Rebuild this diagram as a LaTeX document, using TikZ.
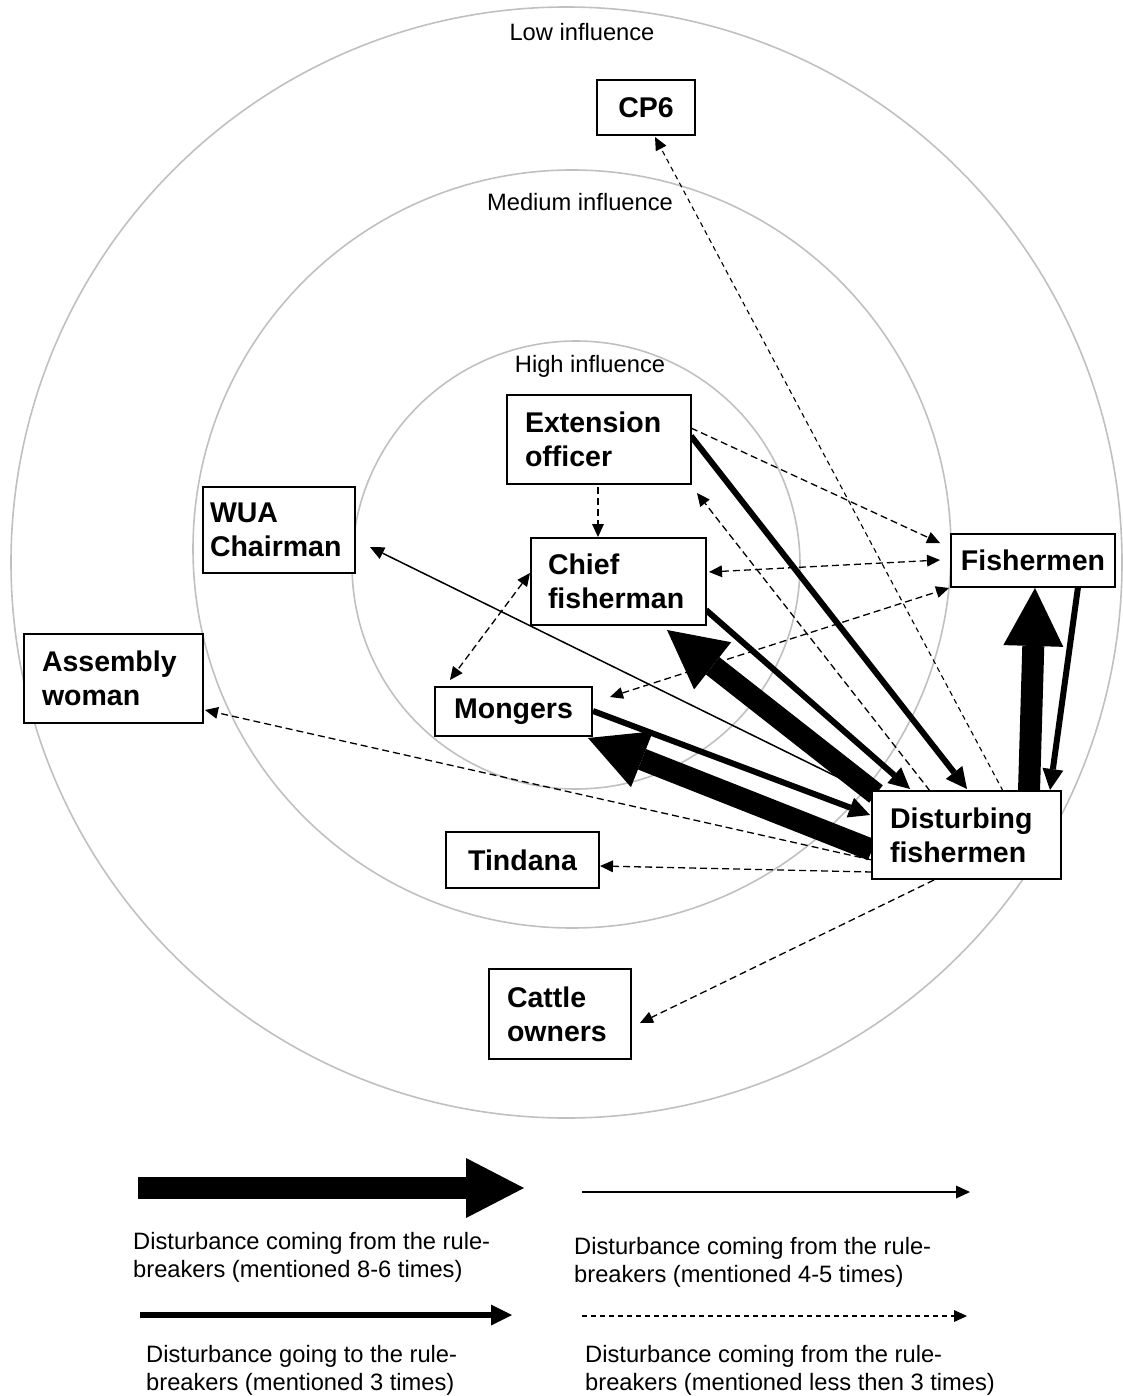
\documentclass[tikz,border=0pt]{standalone}
\usepackage{fontspec}
\setmainfont{Liberation Sans}
\usetikzlibrary{arrows.meta,calc}
\definecolor{ringgray}{RGB}{192,192,192}
\pgfdeclarelayer{rings}
\pgfdeclarelayer{links}
\pgfsetlayers{rings,links,main}

\begin{document}
\begin{tikzpicture}[x=1pt,y=-1pt,
  ring/.style={draw=ringgray, line width=1.6pt},
  zone/.style={font=\fontsize{23.7}{28}\selectfont, inner sep=0pt},
  note/.style={font=\fontsize{23.7}{28}\selectfont, inner sep=0pt, align=left},
  actor/.style={draw, fill=white, line width=1.8pt, outer sep=0pt, inner ysep=0pt,
    font=\bfseries\fontsize{28.5}{34}\selectfont},
  smalltip/.style={-{Triangle[length=13pt,width=12pt,line width=0pt]}},
  few/.style={line width=1.3pt, dash pattern=on 7pt off 4pt, smalltip},
  fewboth/.style={line width=1.3pt, dash pattern=on 7pt off 4pt,
    {Triangle[length=13pt,width=12pt,line width=0pt]}-{Triangle[length=13pt,width=12pt,line width=0pt]}},
  four/.style={line width=1.5pt, -{Triangle[length=14pt,width=13pt,line width=0pt]}},
  three/.style={line width=6pt, -{Triangle[length=21pt,width=21pt,line width=0pt]}},
  many/.style={line width=22pt, -{Triangle[length=58pt,width=60pt,line width=0pt]}}
]
\useasboundingbox (0,0) rectangle (1122,1396);

% influence rings
\begin{pgfonlayer}{rings}
  \draw[ring] (566.5,562.5) circle[radius=555.5pt];
  \draw[ring] (572,549) circle[radius=379pt];
  \draw[ring] (576,565) circle[radius=224pt];
\end{pgfonlayer}

\node[zone] (low)  at (582,32)  {Low influence};
\node[zone] (med)  at (580,202) {Medium influence};
\node[zone] (high) at (590,366) {High influence};

% actors
\node[actor, minimum width=98pt, minimum height=55pt, align=center] (cp6) at (646,107.5) {CP6};
\node[actor, text width=148pt, inner xsep=18pt, minimum height=89pt, align=left] (ext) at (599,439.5) {Extension\\officer};
\node[actor, text width=138pt, inner xsep=7pt, minimum height=86pt, align=left] (wua) at (279,530) {WUA\\Chairman};
\node[actor, text width=141pt, inner xsep=17pt, minimum height=87pt, align=left] (chief) at (618.5,581.5) {Chief\\fisherman};
\node[actor, text width=143pt, inner xsep=18pt, minimum height=89pt, align=left] (asm) at (113.5,678.5) {Assembly\\woman};
\node[actor, minimum width=157pt, minimum height=49pt, align=center] (mong) at (513.5,711.5) {Mongers};
\node[actor, minimum width=164pt, minimum height=53pt, align=center] (fish) at (1033,560.5) {Fishermen};
\node[actor, text width=153pt, inner xsep=18pt, minimum height=88pt, align=left] (dist) at (966.5,835) {Disturbing\\fishermen};
\node[actor, minimum width=153pt, minimum height=56pt, align=center] (tin) at (522.5,860) {Tindana};
\node[actor, text width=106pt, inner xsep=18pt, minimum height=90pt, align=left] (cat) at (560,1014) {Cattle\\owners};

% relations between the actors
\begin{pgfonlayer}{links}
  % mentioned less than 3 times
  \draw[few, dash pattern=on 5pt off 4pt, line width=1.1pt] ([shift={(36.5,0)}]dist.north) -- ([shift={(9,2)}]cp6.south);
  \draw[few] ([shift={(-36.5,0)}]dist.north) -- ([shift={(6,9)}]ext.south east);
  \draw[few] ([shift={(0,-11.5)}]ext.east) -- ([shift={(-11,-17.5)}]fish.west);
  \draw[fewboth] ([shift={(3,-9.5)}]chief.east) -- ([shift={(-11,-0.5)}]fish.west);
  \draw[fewboth] ([shift={(18,-14.5)}]mong.east) -- ([shift={(-2,1)}]fish.south west);
  \draw[few] ([shift={(-1,3)}]ext.south) -- ([shift={(-20.5,-1)}]chief.north);
  \draw[fewboth] ([shift={(-1,-8.5)}]chief.west) -- ([shift={(-63.5,-7)}]mong.north);
  \draw[few] ([shift={(0,25)}]dist.west) -- ([shift={(2,31.5)}]asm.east);
  \draw[few] ([shift={(0,37)}]dist.west) -- ([shift={(1,6)}]tin.east);
  \draw[few] ([shift={(-32.5,1)}]dist.south) -- ([shift={(9,9)}]cat.east);
  % mentioned 4-5 times
  \draw[four] ([shift={(-2,2)}]dist.north west) -- ([shift={(15,17)}]wua.east);
  % going to the rule-breakers
  \draw[three] ([shift={(0,-3.5)}]ext.east) -- ([shift={(0.5,-2)}]dist.north);
  \draw[three] ([shift={(0,28.5)}]chief.east) -- ([shift={(-56.5,-2)}]dist.north);
  \draw[three] ([shift={(1,-0.5)}]mong.east) -- ([shift={(-2,-20)}]dist.west);
  \draw[three] ([shift={(45,0)}]fish.south) -- ([shift={(83.5,-1)}]dist.north);
  % mentioned 8-6 times
  \draw[many] ([shift={(4,3)}]dist.north west) -- ([shift={(48.5,5)}]chief.south);
  \draw[many] ([shift={(0,15)}]dist.west) -- ([shift={(-4,2)}]mong.south east);
  \draw[many] ([shift={(62.5,0)}]dist.north) -- ([shift={(2,1)}]fish.south);
\end{pgfonlayer}

% legend
\coordinate (k1a) at (138,1188);
\coordinate (k1b) at (524,1188);
\coordinate (k2a) at (582,1192);
\coordinate (k2b) at (970,1192);
\coordinate (k3a) at (140,1315);
\coordinate (k3b) at (512,1315);
\coordinate (k4a) at (582,1316);
\coordinate (k4b) at (967,1316);
\draw[many] (k1a) -- (k1b);
\draw[four, line width=2pt] (k2a) -- (k2b);
\draw[three] (k3a) -- (k3b);
\draw[few, dash pattern=on 5pt off 4pt] (k4a) -- (k4b);

% legend captions, placed by the baseline of their second line
\node[note, anchor=base west] (n1) at (133,1277) {Disturbance coming from the rule-\\breakers (mentioned 8-6 times)};
\node[note, anchor=base west] (n2) at (574,1282) {Disturbance coming from the rule-\\breakers (mentioned 4-5 times)};
\node[note, anchor=base west] (n3) at (146,1390) {Disturbance going to the rule-\\breakers (mentioned 3 times)};
\node[note, anchor=base west] (n4) at (585,1390) {Disturbance coming from the rule-\\breakers (mentioned less then 3 times)};
\end{tikzpicture}
\end{document}
